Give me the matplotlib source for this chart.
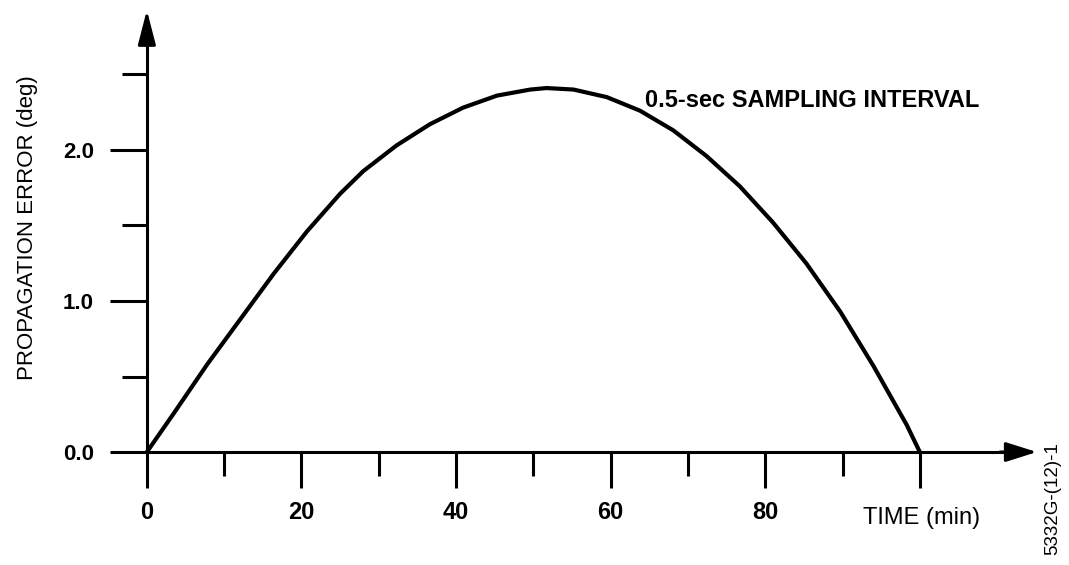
import matplotlib
matplotlib.use("Agg")
import matplotlib.pyplot as plt

plt.rcParams['font.family'] = ['Liberation Sans', 'DejaVu Sans']

# propagation error
time_min = [0, 3.4, 7.8, 12.1, 16.4, 20.7, 25.0, 28.0, 32.3, 36.6, 40.9, 45.3, 49.6, 51.7,
            55.2, 59.5, 63.8, 68.1, 72.4, 76.7, 81.0, 85.3, 89.7, 94.0, 98.3, 100]
error_deg = [0.0, 0.25, 0.58, 0.88, 1.18, 1.46, 1.71, 1.86, 2.03, 2.17, 2.28, 2.36, 2.40, 2.41,
             2.40, 2.35, 2.26, 2.13, 1.96, 1.76, 1.52, 1.25, 0.93, 0.57, 0.18, 0.0]

x_major = [0, 20, 40, 60, 80, 100]
x_labels = ['0', '20', '40', '60', '80', '']
x_minor = [10, 30, 50, 70, 90]
y_major = [0.0, 1.0, 2.0]
y_labels = ['0.0', '1.0', '2.0']
y_minor = [0.5, 1.5, 2.5]

fig = plt.figure(figsize=(10.69, 5.65), dpi=100)
ax = fig.add_axes([0, 0, 1, 1])
ax.set_xlim(-19.0, 119.3)
ax.set_ylim(-0.748, 2.993)

ax.plot(time_min, error_deg, color='black', lw=3, solid_joinstyle='round', solid_capstyle='round')

# axes through the origin
for side in ['top', 'right']:
    ax.spines[side].set_visible(False)
ax.spines['left'].set_position(('data', 0))
ax.spines['bottom'].set_position(('data', 0))
ax.spines['left'].set_bounds(0, 2.8)
ax.spines['bottom'].set_bounds(0, 112)
ax.spines['left'].set_linewidth(2.2)
ax.spines['bottom'].set_linewidth(2.2)

ax.annotate('', xy=(0, 2.945), xytext=(0, 2.7),
            arrowprops=dict(arrowstyle='-|>,head_length=1.05,head_width=0.27',
                            mutation_scale=20, lw=2.2, color='black'))
ax.annotate('', xy=(115.5, 0), xytext=(110, 0),
            arrowprops=dict(arrowstyle='-|>,head_length=0.95,head_width=0.3',
                            mutation_scale=20, lw=2.2, color='black'))

ax.set_xticks(x_major)
ax.set_xticklabels(x_labels, fontweight='bold')
ax.set_xticks(x_minor, minor=True)
ax.set_yticks(y_major)
ax.set_yticklabels(y_labels, fontweight='bold')
ax.set_yticks(y_minor, minor=True)

ax.tick_params(axis='x', which='major', direction='out', length=26, width=2.2, pad=9, labelsize=17)
ax.tick_params(axis='x', which='minor', direction='out', length=17, width=2.2)
ax.tick_params(axis='y', which='major', direction='out', length=27, width=2.2, pad=11, labelsize=16)
ax.tick_params(axis='y', which='minor', direction='out', length=18, width=2.2)

ax.text(-15.5, 1.483, 'PROPAGATION ERROR (deg)', rotation=90, ha='center', va='center', fontsize=16)
ax.text(64.4, 2.325, '0.5-sec SAMPLING INTERVAL', ha='left', va='center', fontsize=17,
        fontweight='bold')
ax.text(92.6, -0.437, 'TIME (min)', ha='left', va='center', fontsize=17)
ax.text(117.2, -0.31, '5332G-(12)-1', rotation=90, ha='center', va='center', fontsize=13.5)

fig.savefig('out.png', dpi=100)
